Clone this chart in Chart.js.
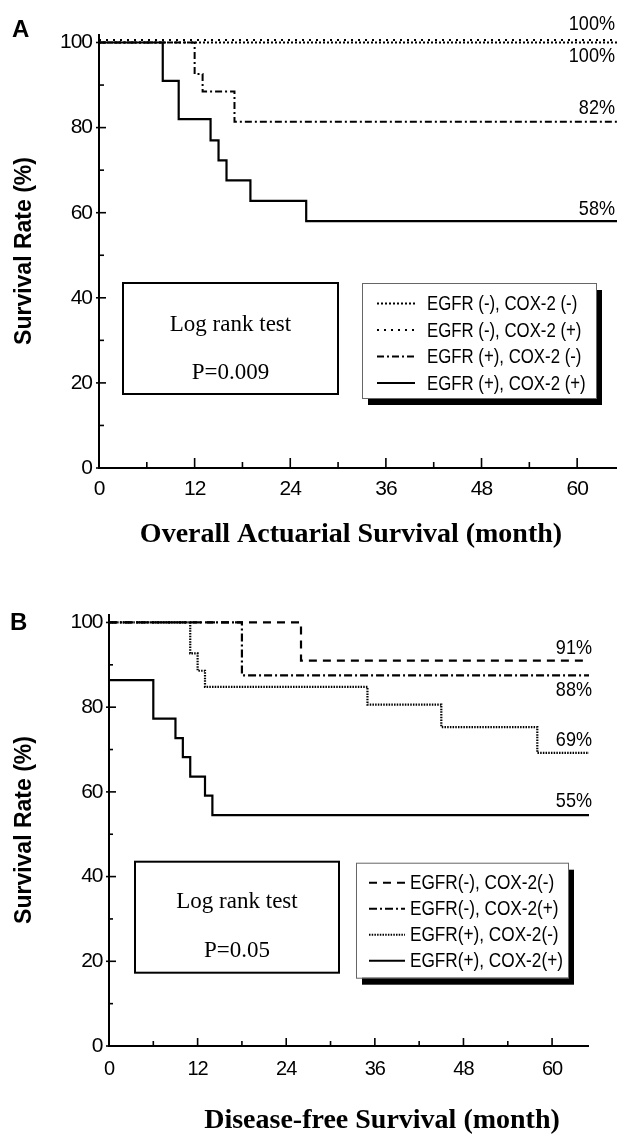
<!DOCTYPE html>
<html><head><meta charset="utf-8">
<script src="https://cdn.jsdelivr.net/npm/chart.js@4.4.1/dist/chart.umd.min.js"></script>
<style>
html,body{margin:0;padding:0;background:#fff;}
#wrap{position:relative;width:618px;height:1135px;overflow:hidden;background:#fff;}
canvas{position:absolute;left:0;}
#ca{top:0;} #cb{top:560px;}
</style></head><body>
<div id="wrap"><canvas id="ca" width="618" height="560"></canvas><canvas id="cb" width="618" height="575"></canvas></div>
<script>
// ---------- data ----------
const xTickValues = [0, 12, 24, 36, 48, 60];
const xMinorTicks = [6, 18, 30, 42, 54];
const yTickValues = [0, 20, 40, 60, 80, 100];
const yMinorTicks = [10, 30, 50, 70, 90];

// Panel A: Overall actuarial survival
const groupsA = ['EGFR (-), COX-2 (-)', 'EGFR (-), COX-2 (+)', 'EGFR (+), COX-2 (-)', 'EGFR (+), COX-2 (+)'];
const a1Months = [0, 65];
const a1Surv   = [100, 100];
const a2Months = [0, 65];
const a2Surv   = [100.6, 100.6];
const a3Months = [0, 12, 13, 17, 65];
const a3Surv   = [100, 92.6, 88.5, 81.4, 81.4];
const a4Months = [0, 8, 10, 14, 15, 16, 19, 26, 65];
const a4Surv   = [100, 91, 82, 77, 72.3, 67.6, 62.8, 58, 58];
const pctLabelsA = ['100%', '100%', '82%', '58%'];

// Panel B: Disease-free survival
const groupsB = ['EGFR(-), COX-2(-)', 'EGFR(-), COX-2(+)', 'EGFR(+), COX-2(-)', 'EGFR(+), COX-2(+)'];
const b1Months = [0, 26, 64.5];
const b1Surv   = [100, 91, 91];
const b2Months = [0, 18, 65];
const b2Surv   = [100, 87.5, 87.5];
const b3Months = [0, 11, 12, 13, 35, 45, 58, 65];
const b3Surv   = [100, 92.7, 88.6, 84.8, 80.6, 75.3, 69.2, 69.2];
const b4Months = [0, 6, 9, 10, 11, 13, 14, 65];
const b4Surv   = [86.4, 77.3, 72.7, 68.2, 63.6, 59.1, 54.5, 54.5];
const pctLabelsB = ['91%', '88%', '69%', '55%'];

// ---------- helpers ----------
const SANS = "'Liberation Sans', Arial, sans-serif";
const SERIF = "'Liberation Serif', 'Times New Roman', serif";
const zip = (m, s) => m.map((v, i) => ({x: v, y: s[i]}));

function panel(canvasId, cfg) {
  const tight = {
    id: 'tight',
    beforeDraw(chart) { chart.ctx.letterSpacing = '-1px'; }
  };
  const decor = {
    id: 'decor',
    afterDraw(chart) {
      const {ctx, chartArea: ca, scales: {x, y}} = chart;
      ctx.save();
      ctx.letterSpacing = '0px';
      ctx.strokeStyle = '#000'; ctx.fillStyle = '#000';
      // axes
      ctx.lineWidth = 2; ctx.setLineDash([]);
      ctx.beginPath();
      ctx.moveTo(ca.left, ca.top); ctx.lineTo(ca.left, ca.bottom); ctx.lineTo(ca.right, ca.bottom);
      ctx.stroke();
      // ticks
      ctx.lineWidth = 1.6;
      xTickValues.forEach(v => { const p = x.getPixelForValue(v); ctx.beginPath(); ctx.moveTo(p, ca.bottom); ctx.lineTo(p, ca.bottom - cfg.xMaj); ctx.stroke(); });
      xMinorTicks.forEach(v => { const p = x.getPixelForValue(v); ctx.beginPath(); ctx.moveTo(p, ca.bottom); ctx.lineTo(p, ca.bottom - cfg.xMin); ctx.stroke(); });
      yTickValues.forEach(v => { const p = y.getPixelForValue(v); ctx.beginPath(); ctx.moveTo(ca.left - 3, p); ctx.lineTo(ca.left + cfg.yMaj, p); ctx.stroke(); });
      yMinorTicks.forEach(v => { const p = y.getPixelForValue(v); ctx.beginPath(); ctx.moveTo(ca.left, p); ctx.lineTo(ca.left + cfg.yMin, p); ctx.stroke(); });

      // panel letter
      ctx.font = 'bold 24px ' + SANS; ctx.textAlign = 'left'; ctx.textBaseline = 'alphabetic';
      ctx.fillText(cfg.letter, cfg.letterX, cfg.letterY);

      // y title
      ctx.save();
      ctx.translate(cfg.yTitleX, (ca.top + ca.bottom) / 2);
      ctx.rotate(-Math.PI / 2);
      ctx.font = 'bold 23px ' + SANS; ctx.textAlign = 'center'; ctx.textBaseline = 'middle';
      ctx.fillText('Survival Rate (%)', 0, 0);
      ctx.restore();

      // x title
      ctx.font = 'bold 28px ' + SERIF; ctx.textAlign = 'center'; ctx.textBaseline = 'alphabetic';
      ctx.fillText(cfg.xTitle, cfg.xTitleX, cfg.xTitleY);

      // percent labels at curve ends (narrow lettering)
      ctx.font = '21px ' + SANS; ctx.textAlign = 'right'; ctx.textBaseline = 'middle';
      chart.data.datasets.forEach((ds, i) => {
        const last = ds.data[ds.data.length - 1].y;
        ctx.save();
        ctx.translate(cfg.pctX, y.getPixelForValue(last) + cfg.pctDy[i]);
        ctx.scale(0.86, 1);
        ctx.fillText(cfg.pct[i], 0, 0);
        ctx.restore();
      });

      // log rank box
      const lb = cfg.logBox;
      ctx.lineWidth = 2; ctx.strokeRect(lb[0], lb[1], lb[2], lb[3]);
      ctx.font = '23px ' + SERIF; ctx.textAlign = 'center'; ctx.textBaseline = 'alphabetic';
      ctx.fillText('Log rank test', lb[0] + lb[2] / 2, lb[1] + cfg.logY1);
      ctx.fillText(cfg.pText, lb[0] + lb[2] / 2, lb[1] + cfg.logY2);

      // legend box with shadow
      const g = cfg.legBox;
      ctx.fillStyle = '#000'; ctx.fillRect(g[0] + 6, g[1] + 7, g[2], g[3]);
      ctx.fillStyle = '#fff'; ctx.fillRect(g[0], g[1], g[2], g[3]);
      ctx.strokeStyle = '#666'; ctx.lineWidth = 1; ctx.strokeRect(g[0] + 0.5, g[1] + 0.5, g[2], g[3]);
      ctx.strokeStyle = '#000'; ctx.fillStyle = '#000';
      ctx.font = '20px ' + SANS; ctx.textAlign = 'left'; ctx.textBaseline = 'middle';
      chart.data.datasets.forEach((ds, i) => {
        const ry = g[1] + cfg.legRow0 + i * cfg.legStep;
        ctx.lineWidth = Math.min(ds.borderWidth, 2);
        ctx.setLineDash(ds.borderDash || []);
        ctx.beginPath(); ctx.moveTo(cfg.legLine[0], ry); ctx.lineTo(cfg.legLine[1], ry); ctx.stroke();
        ctx.setLineDash([]);
        ctx.save();
        ctx.translate(cfg.legText, ry + 1);
        ctx.scale(cfg.legScale, 1);
        ctx.fillText(ds.label, 0, 0);
        ctx.restore();
      });
      ctx.restore();
    }
  };

  return new Chart(document.getElementById(canvasId), {
    type: 'line',
    data: {datasets: cfg.datasets},
    options: {
      responsive: false, animation: false, devicePixelRatio: 1,
      layout: {padding: {left: 0, right: cfg.padRight, top: cfg.padTop, bottom: 0}},
      plugins: {legend: {display: false}, tooltip: {enabled: false}},
      elements: {point: {radius: 0}, line: {tension: 0}},
      scales: {
        x: {
          type: 'linear', min: 0, max: 65,
          grid: {display: false, drawTicks: false}, border: {display: false},
          afterBuildTicks: s => { s.ticks = xTickValues.map(v => ({value: v})); },
          afterFit: s => { s.height = cfg.xH; },
          ticks: {font: {family: SANS, size: cfg.xFont}, color: '#000', padding: cfg.xPad, maxRotation: 0, autoSkip: false}
        },
        y: {
          type: 'linear', min: 0, max: 102,
          grid: {display: false, drawTicks: false}, border: {display: false},
          afterBuildTicks: s => { s.ticks = yTickValues.map(v => ({value: v})); },
          afterFit: s => { s.width = cfg.yW; },
          ticks: {font: {family: SANS, size: 21}, color: '#000', padding: cfg.yPad, autoSkip: false}
        }
      }
    },
    plugins: [tight, decor]
  });
}

const base = {borderColor: '#000', backgroundColor: '#000', stepped: 'before', fill: false, pointRadius: 0};

panel('ca', {
  datasets: [
    Object.assign({}, base, {label: groupsA[0], data: zip(a1Months, a1Surv), borderWidth: 2, borderDash: [2, 2]}),
    Object.assign({}, base, {label: groupsA[1], data: zip(a2Months, a2Surv), borderWidth: 2, borderDash: [2, 5]}),
    Object.assign({}, base, {label: groupsA[2], data: zip(a3Months, a3Surv), borderWidth: 2, borderDash: [7, 3, 2, 3]}),
    Object.assign({}, base, {label: groupsA[3], data: zip(a4Months, a4Surv), borderWidth: 2.2, borderDash: []})
  ],
  padTop: 34, padRight: 1, xH: 92, yW: 99, xPad: 9, yPad: 7, xFont: 21,
  xMaj: 10, xMin: 6, yMaj: 7, yMin: 5,
  letter: 'A', letterX: 12, letterY: 37,
  yTitleX: 25,
  xTitle: 'Overall Actuarial Survival (month)', xTitleX: 351, xTitleY: 542,
  pct: pctLabelsA, pctX: 615, pctDy: [13.5, -16, -13, -12],
  logBox: [123, 283, 215, 111], logY1: 48, logY2: 96, pText: 'P=0.009',
  legBox: [362, 283, 234, 115], legRow0: 20.5, legStep: 26.5, legLine: [377, 415], legText: 427, legScale: 0.84
});

panel('cb', {
  datasets: [
    Object.assign({}, base, {label: groupsB[0], data: zip(b1Months, b1Surv), borderWidth: 2.2, borderDash: [8, 6]}),
    Object.assign({}, base, {label: groupsB[1], data: zip(b2Months, b2Surv), borderWidth: 2.2, borderDash: [8, 3, 2, 3]}),
    Object.assign({}, base, {label: groupsB[2], data: zip(b3Months, b3Surv), borderWidth: 2.2, borderDash: [1.5, 1.2]}),
    Object.assign({}, base, {label: groupsB[3], data: zip(b4Months, b4Surv), borderWidth: 2.2, borderDash: []})
  ],
  padTop: 54, padRight: 29, xH: 89, yW: 109, xPad: 11, yPad: 6.5, xFont: 20,
  xMaj: 8, xMin: 5, yMaj: 7, yMin: 4,
  letter: 'B', letterX: 10, letterY: 70,
  yTitleX: 25,
  xTitle: 'Disease-free Survival (month)', xTitleX: 382, xTitleY: 567.5,
  pct: pctLabelsB, pctX: 592, pctDy: [-12.6, 14.6, -13, -14],
  logBox: [135, 301.7, 204, 111], logY1: 46.6, logY2: 95,
  pText: 'P=0.05',
  legBox: [356, 302.7, 212, 115], legRow0: 20, legStep: 26, legLine: [369, 405], legText: 410, legScale: 0.86
});
</script>
</body></html>
